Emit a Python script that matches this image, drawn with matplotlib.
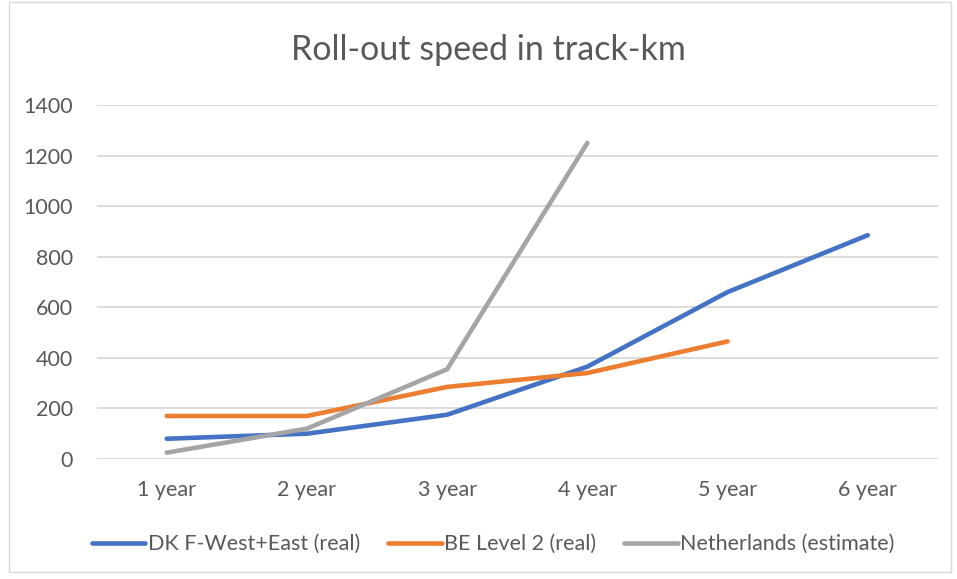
import matplotlib.pyplot as plt
from matplotlib.patches import Rectangle

plt.rcParams['font.family'] = ['Lato', 'DejaVu Sans']

years = ['1 year', '2 year', '3 year', '4 year', '5 year', '6 year']
dk = [80, 100, 175, 365, 660, 885]
be = [170, 170, 285, 340, 465]
nl = [25, 120, 355, 1250]

fig = plt.figure(figsize=(9.57, 5.79), dpi=100)
ax = fig.add_axes([0.101, 0.2073, 0.879, 0.6114])

ax.plot(range(len(dk)), dk, color='#4472C4', lw=3.3, solid_capstyle='round', label='DK F-West+East (real)')
ax.plot(range(len(be)), be, color='#ED7D31', lw=3.3, solid_capstyle='round', label='BE Level 2 (real)')
ax.plot(range(len(nl)), nl, color='#A5A5A5', lw=3.3, solid_capstyle='round', label='Netherlands (estimate)')

ax.set_xlim(-0.5, 5.5)
ax.set_ylim(0, 1400)
ax.set_yticks(range(0, 1401, 200))
ax.set_xticks(range(len(years)))
ax.set_xticklabels(years)
ax.grid(axis='y', color='#d9d9d9', lw=1.3)
ax.set_axisbelow(True)
for s in ax.spines.values():
    s.set_visible(False)
ax.tick_params(length=0, labelsize=15.5, colors='#595959')
ax.tick_params(axis='x', pad=15)
ax.tick_params(axis='y', pad=17)

fig.text(0.51, 0.913, 'Roll-out speed in track-km', ha='center', va='center', fontsize=24.5, color='#595959')

leg = fig.legend(loc='center', bbox_to_anchor=(0.515, 0.06), ncol=3, frameon=False,
                 fontsize=15.5, handlelength=2.5, handletextpad=0.1, columnspacing=1.3)
for t in leg.get_texts():
    t.set_color('#595959')

fig.patches.append(Rectangle((0.009, 0.012), 0.985, 0.985, transform=fig.transFigure,
                             fill=False, edgecolor='#d9d9d9', lw=1))

fig.savefig('out.png', dpi=100)
